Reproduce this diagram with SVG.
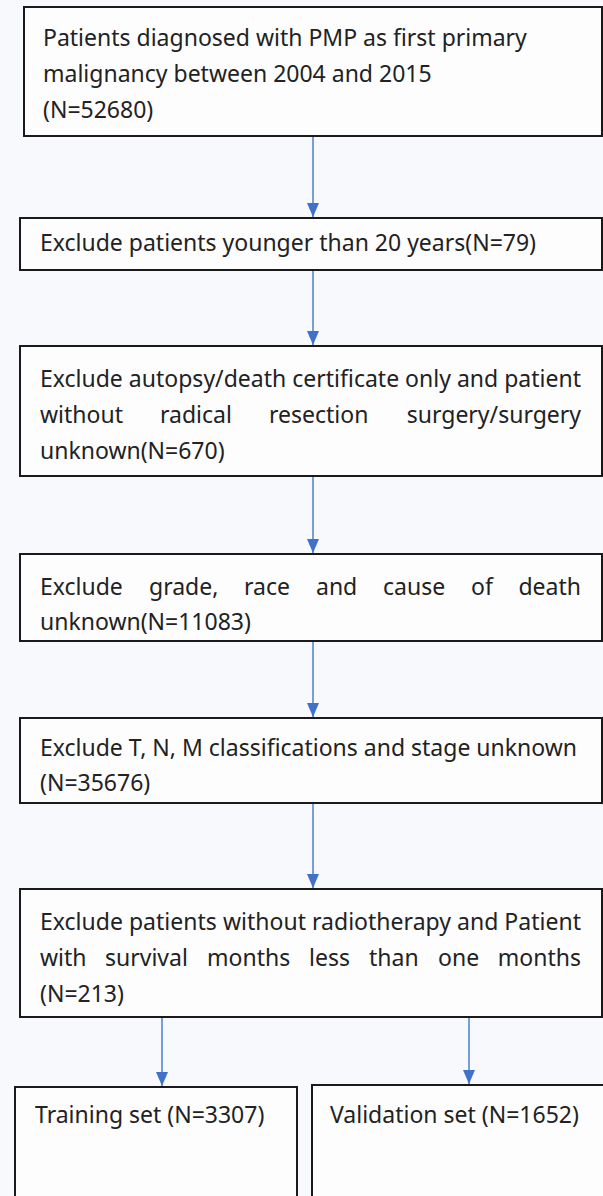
<svg xmlns="http://www.w3.org/2000/svg" width="603" height="1196" viewBox="0 0 603 1196">
  <style>
    .box { fill: #fdfdfe; stroke: #1a1a1a; stroke-width: 2; }
    .t { font-family: "Noto Sans", "Open Sans", sans-serif; font-size: 23px; fill: #222; }
    .conn { stroke: #4a7fd0; stroke-width: 1.5; fill: none; }
  </style>
  <defs>
    <marker id="arr" viewBox="0 0 14 12" refX="14" refY="6" markerWidth="14" markerHeight="12" markerUnits="userSpaceOnUse" orient="auto">
      <path d="M0,0 L14,6 L0,12 Z" fill="#3f72c8"/>
    </marker>
  </defs>
  <rect x="0" y="0" width="603" height="1196" fill="#f8f9fc"/>

  <g id="connectors">
    <line class="conn" x1="313" y1="136" x2="313" y2="217" marker-end="url(#arr)"/>
    <line class="conn" x1="313" y1="270" x2="313" y2="345" marker-end="url(#arr)"/>
    <line class="conn" x1="313" y1="476" x2="313" y2="553" marker-end="url(#arr)"/>
    <line class="conn" x1="313" y1="641" x2="313" y2="717" marker-end="url(#arr)"/>
    <line class="conn" x1="313" y1="803" x2="313" y2="888" marker-end="url(#arr)"/>
    <line class="conn" x1="162" y1="1017" x2="162" y2="1086" marker-end="url(#arr)"/>
    <line class="conn" x1="469" y1="1017" x2="469" y2="1084" marker-end="url(#arr)"/>
  </g>

  <g id="node-start">
    <rect class="box" x="24" y="7" width="578" height="129"/>
    <text class="t" x="43" y="46">Patients diagnosed with PMP as first primary</text>
    <text class="t" x="43" y="82">malignancy between 2004 and 2015</text>
    <text class="t" x="43" y="118">(N=52680)</text>
  </g>

  <g id="node-age">
    <rect class="box" x="20" y="218" width="582" height="52"/>
    <text class="t" x="40" y="251">Exclude patients younger than 20 years(N=79)</text>
  </g>

  <g id="node-surgery">
    <rect class="box" x="20" y="346" width="582" height="130"/>
    <text class="t" x="40" y="387" textLength="541" lengthAdjust="spacing">Exclude autopsy/death certificate only and patient</text>
    <text class="t" y="423"><tspan x="40">without</tspan><tspan x="160">radical</tspan><tspan x="269">resection</tspan><tspan x="581" text-anchor="end">surgery/surgery</tspan></text>
    <text class="t" x="40" y="459">unknown(N=670)</text>
  </g>

  <g id="node-grade">
    <rect class="box" x="20" y="554" width="582" height="87"/>
    <text class="t" y="595"><tspan x="40">Exclude</tspan><tspan x="149">grade,</tspan><tspan x="244">race</tspan><tspan x="316">and</tspan><tspan x="383">cause</tspan><tspan x="471">of</tspan><tspan x="581" text-anchor="end">death</tspan></text>
    <text class="t" x="40" y="630">unknown(N=11083)</text>
  </g>

  <g id="node-tnm">
    <rect class="box" x="20" y="718" width="582" height="85"/>
    <text class="t" x="40" y="756">Exclude T, N, M classifications and stage unknown</text>
    <text class="t" x="40" y="791">(N=35676)</text>
  </g>

  <g id="node-radio">
    <rect class="box" x="20" y="889" width="582" height="128"/>
    <text class="t" x="40" y="930" textLength="541" lengthAdjust="spacing">Exclude patients without radiotherapy and Patient</text>
    <text class="t" y="966"><tspan x="40">with</tspan><tspan x="105">survival</tspan><tspan x="207">months</tspan><tspan x="309">less</tspan><tspan x="369">than</tspan><tspan x="438">one</tspan><tspan x="581" text-anchor="end">months</tspan></text>
    <text class="t" x="40" y="1002">(N=213)</text>
  </g>

  <g id="node-training">
    <rect class="box" x="15" y="1087" width="282" height="130"/>
    <text class="t" x="35" y="1123">Training set (N=3307)</text>
  </g>

  <g id="node-validation">
    <rect class="box" x="312" y="1085" width="300" height="130"/>
    <text class="t" x="330" y="1123">Validation set (N=1652)</text>
  </g>
</svg>
